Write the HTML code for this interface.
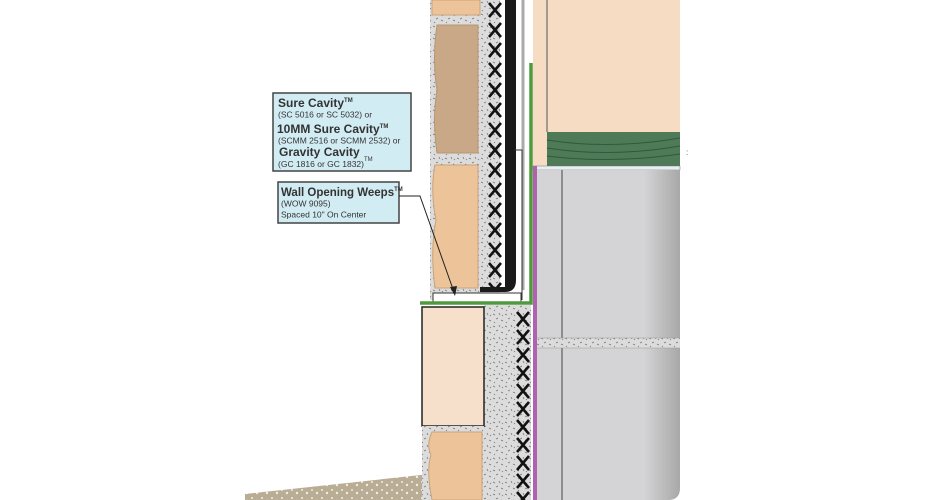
<!DOCTYPE html>
<html><head><meta charset="utf-8"><style>
html,body{margin:0;padding:0;background:#fff;}
svg{display:block;}
.t{font-family:"Liberation Sans",sans-serif;fill:#333;}
</style></head><body>
<svg width="930" height="500" viewBox="0 0 930 500" xmlns="http://www.w3.org/2000/svg">
<defs>
<pattern id="sp" width="12" height="12" patternUnits="userSpaceOnUse">
<rect width="12" height="12" fill="#dcdcdc"/>
<path d="M1 2l2 1M7 1l1 2M4 7l2-1M9 8l2 1M2 10l1 1M10 4l1-1" stroke="#777" stroke-width="0.8"/>
</pattern>
<pattern id="gr" width="10" height="8" patternUnits="userSpaceOnUse">
<rect width="10" height="8" fill="#b9ad95"/>
<circle cx="2" cy="2" r="1" fill="#f2ede2"/><circle cx="7" cy="5" r="1.2" fill="#f2ede2"/>
</pattern>
<pattern id="xx" x="486" y="0" width="18" height="20" patternUnits="userSpaceOnUse">
<path d="M3 3l12 14M15 3L3 17" stroke="#111" stroke-width="2.6"/>
</pattern>
<pattern id="xx2" x="515" y="310" width="16" height="18" patternUnits="userSpaceOnUse">
<path d="M2 2l12 14M14 2L2 16" stroke="#111" stroke-width="2.6"/>
</pattern>
<linearGradient id="cmu" x1="0" x2="1">
<stop offset="0" stop-color="#9a9a9a"/><stop offset="0.12" stop-color="#d4d4d6"/>
<stop offset="0.75" stop-color="#d4d4d6"/><stop offset="1" stop-color="#a8a8a8"/>
</linearGradient>
</defs>
<polygon points="245,494 430,474 430,500 245,500" fill="url(#gr)"/>
<rect x="430" y="0" width="70" height="300" fill="url(#sp)"/>
<rect x="432" y="0" width="48" height="15" fill="#edc49a" stroke="#c9a37b"/>
<path d="M437 25H478V153H437Q432 120 437 90Q432 60 437 25Z" fill="#c8a886" stroke="#b8966f"/>
<path d="M435 165H478V288H435Q430 250 436 220Q430 190 435 165Z" fill="#edc49a" stroke="#c9a37b"/>
<rect x="486" y="0" width="18" height="290" fill="url(#xx)"/>
<path d="M505 0H516V280Q516 292 505 292H480V287H505Z" fill="#1a1a1a"/>
<line x1="523" y1="0" x2="523" y2="290" stroke="#aaa" stroke-width="3"/>
<rect x="433" y="293" width="88" height="9" fill="#fff" stroke="#333"/>
<polyline points="514,150 522,150 522,300" fill="none" stroke="#333" stroke-width="1"/>
<rect x="533" y="0" width="147" height="132" fill="#f5dcc3"/>
<line x1="547" y1="0" x2="547" y2="166" stroke="#555" stroke-width="1"/>
<rect x="533" y="132" width="14" height="34" fill="#f5dcc3"/>
<rect x="547" y="132" width="133" height="34" fill="#4e7a58"/>
<path d="M547 140Q610 150 680 138M547 148Q610 158 680 146M547 156Q610 164 680 154" stroke="#2f5a3b" fill="none"/>
<rect x="533" y="166" width="147" height="4" fill="#e8eef2" stroke="#777" stroke-width="0.5"/>
<path d="M537 170H680V488Q680 500 668 500H537Z" fill="url(#cmu)"/>
<rect x="537" y="170" width="25" height="330" fill="#d4d4d6"/>
<line x1="562" y1="170" x2="562" y2="500" stroke="#444"/>
<rect x="537" y="338" width="143" height="10" fill="url(#sp)"/>
<line x1="537" y1="338" x2="680" y2="338" stroke="#999" stroke-width="0.5"/>
<line x1="537" y1="348" x2="680" y2="348" stroke="#999" stroke-width="0.5"/>
<rect x="533" y="166" width="4" height="334" fill="#b062b0"/>
<polyline points="420,303 531,303 531,63" fill="none" stroke="#4f9a3c" stroke-width="3.5"/>
<rect x="484" y="305" width="47" height="195" fill="url(#sp)"/>
<rect x="515" y="310" width="16" height="190" fill="url(#xx2)"/>
<rect x="422" y="307" width="62" height="119" fill="#f7e0cb" stroke="#222" stroke-width="1.5"/>
<rect x="422" y="426" width="62" height="74" fill="url(#sp)"/>
<path d="M432 432H482V500H432Q426 470 431 455Q426 445 432 432Z" fill="#edc49a" stroke="#c9a37b"/>
<text x="686" y="155" font-size="8" fill="#555" font-family="Liberation Sans,sans-serif">:</text>
<rect x="273" y="93" width="138" height="78" fill="#d2ecf4" stroke="#444" stroke-width="1.5"/>
<text class="t" x="278" y="107" font-size="12" font-weight="bold">Sure Cavity<tspan font-size="6" dy="-5">TM</tspan></text>
<text class="t" x="278" y="117.5" font-size="8.5">(SC 5016 or SC 5032) or</text>
<text class="t" x="277" y="133" font-size="12" font-weight="bold">10MM Sure Cavity<tspan font-size="6" dy="-5">TM</tspan></text>
<text class="t" x="278" y="143.5" font-size="8.5">(SCMM 2516 or SCMM 2532) or</text>
<text class="t" x="279" y="156" font-size="12" font-weight="bold">Gravity Cavity</text>
<text class="t" x="278" y="167" font-size="8.5">(GC 1816 or GC 1832)<tspan font-size="6" dy="-6">TM</tspan></text>
<rect x="278" y="182" width="121" height="41" fill="#d2ecf4" stroke="#444" stroke-width="1.5"/>
<text class="t" x="281" y="196" font-size="11.5" font-weight="bold">Wall Opening Weeps<tspan font-size="6" dy="-5">TM</tspan></text>
<text class="t" x="281" y="206.5" font-size="8.5">(WOW 9095)</text>
<text class="t" x="281" y="217.5" font-size="8.5">Spaced 10" On Center</text>
<polyline points="399,196 420,196 454,292" fill="none" stroke="#222" stroke-width="1"/>
<polygon points="455,296 450,287 457,286" fill="#222"/>
</svg>
</body></html>
